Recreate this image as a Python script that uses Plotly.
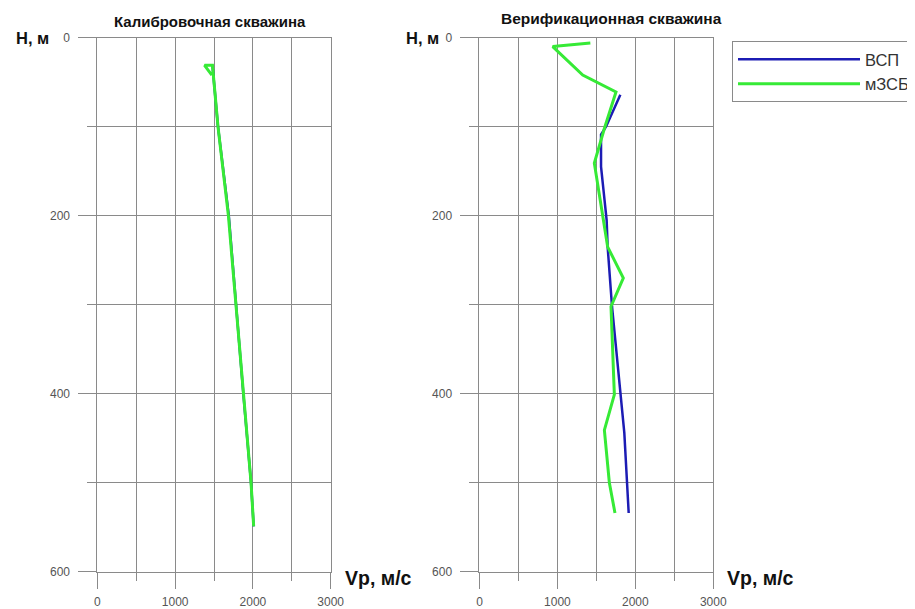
import plotly.graph_objects as go

# ---- data ----
cal_vsp_depth = [31, 100, 200, 300, 400, 500, 549]
cal_vsp_vp = [1480, 1551, 1690, 1780, 1877, 1976, 2010]
cal_mzsb_depth = [42, 31, 31, 100, 200, 300, 400, 500, 549]
cal_mzsb_vp = [1472, 1378, 1480, 1551, 1685, 1780, 1877, 1976, 2010]

ver_vsp_depth = [64, 100, 109, 145, 205, 235, 302, 384, 444, 534]
ver_vsp_vp = [1808, 1624, 1560, 1560, 1632, 1645, 1701, 1795, 1859, 1915]
ver_mzsb_depth = [6, 10, 42, 61, 102, 141, 235, 270, 302, 401, 441, 500, 534]
ver_mzsb_vp = [1423, 940, 1325, 1752, 1603, 1474, 1645, 1846, 1688, 1731, 1603, 1667, 1739]

titles = ["Калибровочная скважина", "Верификационная скважина"]
series_names = ["ВСП", "мЗСБ"]
x_title = "Vp, м/с"
y_title = "Н, м"

BLUE = "#1c1cb4"
GREEN = "#36ea36"
GRID = "#8a8a8a"
OFF = 8            # page body margin
W, H = 907, 601


def px(x):
    return (x - OFF) / W


def py(y):
    return 1 - (y - OFF) / H


fig = go.Figure()
fig.add_trace(go.Scatter(x=cal_vsp_vp, y=cal_vsp_depth, mode="lines", line=dict(color=BLUE, width=2.5),
                         name=series_names[0], showlegend=False, xaxis="x", yaxis="y"))
fig.add_trace(go.Scatter(x=cal_mzsb_vp, y=cal_mzsb_depth, mode="lines", line=dict(color=GREEN, width=3),
                         name=series_names[1], showlegend=False, xaxis="x", yaxis="y"))
fig.add_trace(go.Scatter(x=ver_vsp_vp, y=ver_vsp_depth, mode="lines", line=dict(color=BLUE, width=2.5),
                         name=series_names[0], showlegend=True, xaxis="x2", yaxis="y2"))
fig.add_trace(go.Scatter(x=ver_mzsb_vp, y=ver_mzsb_depth, mode="lines", line=dict(color=GREEN, width=3),
                         name=series_names[1], showlegend=True, xaxis="x2", yaxis="y2"))

tickfont = dict(family="Liberation Sans, Arial", size=12, color="#555555")


def xax(domain, anchor):
    return dict(domain=domain, anchor=anchor, range=[0, 3000], tick0=0, dtick=1000,
                ticks="outside", ticklen=16, tickcolor=GRID, tickwidth=1,
                showgrid=True, gridcolor=GRID, gridwidth=1,
                minor=dict(dtick=500, tick0=0, ticks="outside", ticklen=8, tickcolor=GRID,
                           showgrid=True, gridcolor=GRID),
                showline=True, mirror=True, linecolor=GRID, linewidth=1,
                zeroline=False, tickfont=tickfont, automargin=False, ticklabelstandoff=3)


def yax(domain, anchor):
    return dict(domain=domain, anchor=anchor, range=[600, 0], tick0=0, dtick=200,
                ticks="outside", ticklen=18, tickcolor=GRID, tickwidth=1,
                showgrid=True, gridcolor=GRID, gridwidth=1,
                minor=dict(dtick=100, tick0=0, ticks="outside", ticklen=9, tickcolor=GRID,
                           showgrid=True, gridcolor=GRID),
                showline=True, mirror=True, linecolor=GRID, linewidth=1,
                zeroline=False, tickfont=tickfont, automargin=False, ticklabelstandoff=6)


ydom = [py(571.7), py(37.7)]
fig.update_layout(
    width=W, height=H,
    margin=dict(l=0, r=0, t=0, b=0),
    paper_bgcolor="white", plot_bgcolor="white",
    xaxis=xax([px(97.5), px(331)], "y"),
    yaxis=yax(ydom, "x"),
    xaxis2=xax([px(480), px(714)], "y2"),
    yaxis2=yax(ydom, "x2"),
    showlegend=True,
    legend=dict(x=px(733), xanchor="left", y=py(41), yanchor="top",
                bordercolor=GRID, borderwidth=1, bgcolor="white",
                font=dict(family="Liberation Sans, Arial", size=16.5, color="#333333"),
                itemwidth=122, tracegroupgap=0),
)

bold = dict(family="Liberation Sans, Arial", color="#111111")
annos = [
    dict(text="<b>%s</b>" % titles[0], x=px(210), y=py(22), font=dict(size=15, **bold)),
    dict(text="<b>%s</b>" % titles[1], x=px(612), y=py(19), font=dict(size=15.5, **bold)),
    dict(text="<b>%s</b>" % y_title, x=px(51), y=py(38), xanchor="right", font=dict(size=16.5, **bold)),
    dict(text="<b>%s</b>" % y_title, x=px(441), y=py(38), xanchor="right", font=dict(size=16.5, **bold)),
    dict(text="<b>%s</b>" % x_title, x=px(343), y=py(578), xanchor="left", font=dict(size=19.5, **bold)),
    dict(text="<b>%s</b>" % x_title, x=px(726), y=py(578), xanchor="left", font=dict(size=19.5, **bold)),
]
for a in annos:
    a.update(xref="paper", yref="paper", showarrow=False, yanchor="middle")
    a.setdefault("xanchor", "center")
    fig.add_annotation(**a)

fig.write_html("out.html")
